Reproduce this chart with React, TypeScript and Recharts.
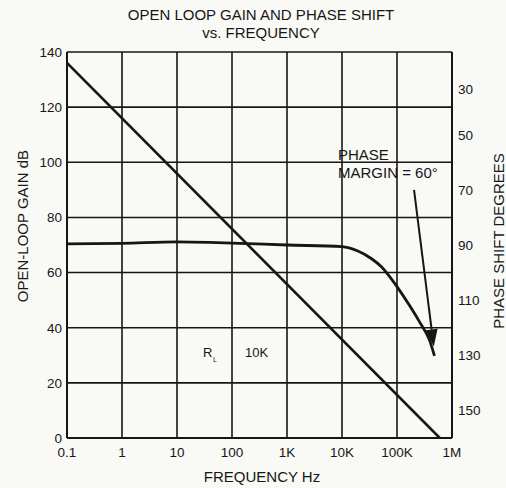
import { ComposedChart, Line, XAxis, YAxis, CartesianGrid, ReferenceLine } from "recharts";

// frequency axis (log, Hz)
const freqTicks = [0.1, 1, 10, 100, 1000, 10000, 100000, 1000000];
const freqLabels = ["0.1", "1", "10", "100", "1K", "10K", "100K", "1M"];

// left axis: open-loop gain dB
const gainTicks = [0, 20, 40, 60, 80, 100, 120, 140];
// right axis: phase shift degrees (downwards)
const phaseTicks = [30, 50, 70, 90, 110, 130, 150];

// gain roll-off line
const gainFreq = [0.1, 600000];
const gainDb = [136, 0];

// phase curve
const phaseFreq = [0.1, 1, 10, 100, 1000, 10000, 19000, 34000, 52000, 70000, 100000, 167000, 255000, 390000, 480000];
const phaseDeg = [89.6, 89.4, 88.9, 89.3, 90, 90.6, 92.1, 94.9, 97.9, 100.9, 105.1, 111.8, 117.8, 124.5, 130.2];

// phase margin arrow (start, tip)
const arrowFreq = [204000, 466000];
const arrowDeg = [70, 126.8];

const gainData = gainFreq.map((f, i) => ({ f, gain: gainDb[i] }));
const phaseData = phaseFreq.map((f, i) => ({ f, deg: phaseDeg[i] }));

const FONT = '"Liberation Sans", Arial, Helvetica, sans-serif';
const INK = "#161616";

function PhaseTick({ x, y, payload }: any) {
  // the printed "30" sits a little lower than its scale position
  const dy = payload.value === 30 ? 10 : 0;
  return (
    <text x={x + 6} y={y + dy} dy="0.355em" textAnchor="start" fontSize={13.5} fill={INK} fontFamily={FONT}>
      {payload.value}
    </text>
  );
}

function ArrowShape(props: any) {
  const { x1, y1, x2, y2 } = props;
  const ang = Math.atan2(y2 - y1, x2 - x1);
  const len = 17;
  const half = 6;
  const bx = x2 - len * Math.cos(ang);
  const by = y2 - len * Math.sin(ang);
  const px = -Math.sin(ang) * half;
  const py = Math.cos(ang) * half;
  return (
    <g>
      <line x1={x1} y1={y1} x2={bx} y2={by} stroke={INK} strokeWidth={2} />
      <polygon points={`${x2},${y2} ${bx + px},${by + py} ${bx - px},${by - py}`} fill={INK} />
    </g>
  );
}

export default function App() {
  return (
    <div style={{ position: "absolute", left: 0, top: 0, width: 506, height: 488, background: "#f9f9f6" }}>
      <ComposedChart width={506} height={488} margin={{ top: 52, right: 0, bottom: 0, left: 0 }}>
        <CartesianGrid stroke={INK} strokeWidth={1.6} />
        <XAxis
          dataKey="f"
          type="number"
          scale="log"
          domain={[0.1, 1000000]}
          ticks={freqTicks}
          interval={0}
          allowDataOverflow
          height={50}
          tickSize={0}
          tickMargin={9}
          tickLine={false}
          axisLine={{ stroke: INK, strokeWidth: 2 }}
          tickFormatter={(v: number) => freqLabels[freqTicks.indexOf(v)] ?? ""}
          tick={{ fontSize: 13.5, fill: INK, fontFamily: FONT }}
        />
        <YAxis
          domain={[0, 140]}
          ticks={gainTicks}
          interval={0}
          allowDataOverflow
          width={67}
          tickSize={0}
          tickMargin={5}
          tickLine={false}
          axisLine={{ stroke: INK, strokeWidth: 2 }}
          tick={{ fontSize: 13.5, fill: INK, fontFamily: FONT }}
        />
        <YAxis
          yAxisId="phase"
          orientation="right"
          reversed
          domain={[20, 160]}
          ticks={phaseTicks}
          interval={0}
          allowDataOverflow
          width={54}
          tickSize={0}
          tickMargin={0}
          tickLine={false}
          axisLine={{ stroke: INK, strokeWidth: 2 }}
          tick={<PhaseTick />}
        />
        <Line
          data={gainData}
          dataKey="gain"
          type="linear"
          stroke={INK}
          strokeWidth={2.6}
          dot={false}
          isAnimationActive={false}
        />
        <Line
          data={phaseData}
          yAxisId="phase"
          dataKey="deg"
          type="monotone"
          stroke={INK}
          strokeWidth={2.8}
          dot={false}
          isAnimationActive={false}
        />
        <ReferenceLine
          yAxisId="phase"
          ifOverflow="visible"
          segment={[
            { x: arrowFreq[0], y: arrowDeg[0] },
            { x: arrowFreq[1], y: arrowDeg[1] },
          ]}
          shape={ArrowShape}
        />
      </ComposedChart>
      <svg
        width={506}
        height={488}
        style={{ position: "absolute", left: 0, top: 0, pointerEvents: "none" }}
        fontFamily={FONT}
        fill={INK}
      >
        <text x={261} y={20} textAnchor="middle" fontSize={15}>OPEN LOOP GAIN AND PHASE SHIFT</text>
        <text x={261} y={38} textAnchor="middle" fontSize={15}>vs. FREQUENCY</text>
        <text x={262} y={482} textAnchor="middle" fontSize={15}>FREQUENCY Hz</text>
        <text transform="translate(28,226) rotate(-90)" textAnchor="middle" fontSize={15}>OPEN-LOOP GAIN dB</text>
        <text transform="translate(504,241) rotate(-90)" textAnchor="middle" fontSize={15}>PHASE SHIFT DEGREES</text>
        <text x={338} y={160} fontSize={15}>PHASE</text>
        <text x={338} y={178} fontSize={15}>MARGIN = 60°</text>
        <text x={203} y={357} fontSize={13}>R</text>
        <text x={213} y={362} fontSize={7}>L</text>
        <text x={245} y={357} fontSize={13}>10K</text>
      </svg>
    </div>
  );
}
